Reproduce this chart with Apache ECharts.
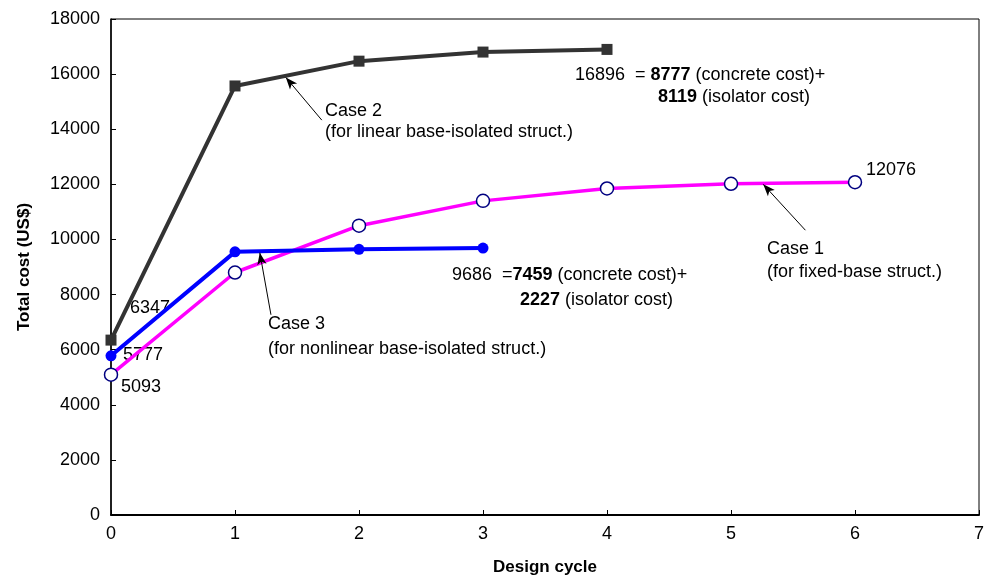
<!DOCTYPE html>
<html>
<head>
<meta charset="utf-8">
<script src="https://cdn.jsdelivr.net/npm/echarts@6/dist/echarts.min.js"></script>
<style>
  html, body { margin: 0; padding: 0; background: #fff; }
  #chart { width: 988px; height: 581px; }
</style>
</head>
<body>
<div id="chart"></div>
<script>
// design cycles and total costs (US$)
var case1X = [0, 1, 2, 3, 4, 5, 6]
var case1Cost = [5093, 8800, 10500, 11400, 11850, 12020, 12076]
var case2X = [0, 1, 2, 3, 4]
var case2Cost = [6347, 15570, 16470, 16800, 16896]
var case3X = [0, 1, 2, 3]
var case3Cost = [5777, 9550, 9640, 9686]
var xTicks = [0, 1, 2, 3, 4, 5, 6, 7]
var yTicks = [0, 2000, 4000, 6000, 8000, 10000, 12000, 14000, 16000, 18000]

function pairs(xs, ys) {
  return xs.map(function (x, i) { return [x, ys[i]] })
}

var font = 'Liberation Sans, Arial, Helvetica, sans-serif'

// annotation arrows, in data coordinates
function arrow(from, to) {
  return [{ coord: from, symbol: 'none' }, { coord: to, symbol: 'arrow' }]
}
var arrowStyle = { color: '#000', width: 1, type: 'solid' }

var chart = echarts.init(document.getElementById('chart'))

function txt(x, y, text, rich) {
  return {
    type: 'text', left: x, top: y,
    style: { text: text, font: '18px ' + font, fill: '#000', rich: rich || {} }
  }
}
var boldRich = { b: { fontWeight: 'bold', fontSize: 18, fontFamily: font } }

chart.setOption({
  animation: false,
  grid: { left: 111, right: 9, top: 19, bottom: 63, show: true, borderColor: '#000', borderWidth: 1 },
  xAxis: {
    type: 'value', min: xTicks[0], max: xTicks[xTicks.length - 1], interval: 1,
    name: 'Design cycle', nameLocation: 'middle', nameGap: 44,
    nameTextStyle: { fontFamily: font, fontWeight: 'bold', fontSize: 17, color: '#000' },
    axisLine: { lineStyle: { color: '#000', width: 2 } },
    axisTick: { inside: true, length: 5, lineStyle: { color: '#000' } },
    axisLabel: { margin: 10, fontFamily: font, fontSize: 18, color: '#000' },
    splitLine: { show: false }
  },
  yAxis: {
    type: 'value', min: yTicks[0], max: yTicks[yTicks.length - 1], interval: 2000,
    name: 'Total cost (US$)', nameLocation: 'middle', nameGap: 78, nameRotate: 90,
    nameTextStyle: { fontFamily: font, fontWeight: 'bold', fontSize: 17, color: '#000' },
    axisLine: { show: true, lineStyle: { color: '#000', width: 1.5 } },
    axisTick: { show: true, inside: true, length: 5, lineStyle: { color: '#000' } },
    axisLabel: {
      margin: 11, fontFamily: font, fontSize: 18, color: '#000',
      formatter: function (v) { return String(v) }
    },
    splitLine: { show: false }
  },
  series: [
    {
      name: 'Case 1', type: 'line', data: pairs(case1X, case1Cost),
      lineStyle: { color: '#ff00ff', width: 3.5 },
      symbol: 'circle', symbolSize: 13,
      itemStyle: { color: '#fff', borderColor: '#000080', borderWidth: 1.5 },
      z: 3,
      markLine: {
        silent: true, symbolSize: [7, 12], lineStyle: arrowStyle, label: { show: false },
        data: [arrow([5.6, 10335], [5.26, 12000])]
      }
    },
    {
      name: 'Case 2', type: 'line', data: pairs(case2X, case2Cost),
      lineStyle: { color: '#333333', width: 4 },
      symbol: 'rect', symbolSize: 11,
      itemStyle: { color: '#333333' },
      z: 2,
      markLine: {
        silent: true, symbolSize: [7, 12], lineStyle: arrowStyle, label: { show: false },
        data: [arrow([1.7, 14330], [1.41, 15880])]
      }
    },
    {
      name: 'Case 3', type: 'line', data: pairs(case3X, case3Cost),
      lineStyle: { color: '#0000ff', width: 4 },
      symbol: 'circle', symbolSize: 11,
      itemStyle: { color: '#0000ff' },
      z: 4,
      markLine: {
        silent: true, symbolSize: [7, 12], lineStyle: arrowStyle, label: { show: false },
        data: [arrow([1.29, 7267], [1.2, 9520])]
      }
    }
  ],
  graphic: [
    txt(325, 102, 'Case 2'),
    txt(325, 123, '(for linear base-isolated struct.)'),
    txt(575, 66, '16896  = {b|8777} (concrete cost)+', boldRich),
    txt(658, 88, '{b|8119} (isolator cost)', boldRich),
    txt(866, 161, '12076'),
    txt(767, 240, 'Case 1'),
    txt(767, 263, '(for fixed-base struct.)'),
    txt(452, 266, '9686  ={b|7459} (concrete cost)+', boldRich),
    txt(520, 291, '{b|2227} (isolator cost)', boldRich),
    txt(268, 315, 'Case 3'),
    txt(268, 340, '(for nonlinear base-isolated struct.)'),
    txt(130, 299, '6347'),
    txt(123, 346, '5777'),
    txt(121, 378, '5093')
  ]
})
</script>
</body>
</html>
